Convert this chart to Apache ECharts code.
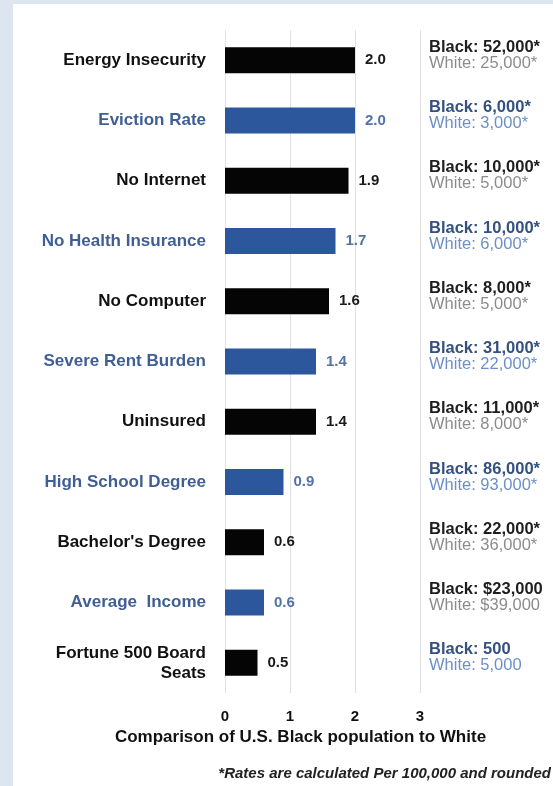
<!DOCTYPE html>
<html>
<head>
<meta charset="utf-8">
<title>Black vs White comparison</title>
<script src="https://cdn.jsdelivr.net/npm/echarts@6/dist/echarts.min.js"></script>
<style>
  html, body { margin: 0; padding: 0; background: #dde6f0; }
  .chart { width: 553px; height: 786px; }
</style>
</head>
<body>
<div class="chart"></div>
<script>
// 数据
var categories = ['Energy Insecurity', 'Eviction Rate', 'No Internet', 'No Health Insurance', 'No Computer',
  'Severe Rent Burden', 'Uninsured', 'High School Degree', "Bachelor's Degree", 'Average  Income',
  'Fortune 500 Board\nSeats'];
var ratios = [2.0, 2.0, 1.9, 1.7, 1.6, 1.4, 1.4, 0.9, 0.6, 0.6, 0.5];
var blackRates = ['52,000*', '6,000*', '10,000*', '10,000*', '8,000*', '31,000*', '11,000*', '86,000*', '22,000*', '$23,000', '500'];
var whiteRates = ['25,000*', '3,000*', '5,000*', '6,000*', '5,000*', '22,000*', '8,000*', '93,000*', '36,000*', '$39,000', '5,000'];
// k = 黑色, b = 蓝色
var barTone = ['k', 'b', 'k', 'b', 'k', 'b', 'k', 'b', 'k', 'b', 'k'];
var noteTone = ['k', 'b', 'k', 'b', 'k', 'b', 'k', 'b', 'k', 'k', 'b'];
var xTicks = [0, 1, 2, 3];

var colors = {
  k: { bar: '#050505', label: '#111111', value: '#1a1a1a', black: '#1e1e1e', white: '#8c8c8c' },
  b: { bar: '#2d579d', label: '#3f5f94', value: '#5472a6', black: '#34517f', white: '#6d8fc6' }
};
var font = 'Liberation Sans';

var $chart = document.querySelector('.chart');
var myChart = echarts.init($chart);

var catRich = {
  k: { color: colors.k.label, fontWeight: 'bold', fontSize: 17, fontFamily: font, lineHeight: 20, align: 'right' },
  b: { color: colors.b.label, fontWeight: 'bold', fontSize: 17, fontFamily: font, lineHeight: 20, align: 'right' }
};

var noteRich = {
  kb: { color: colors.k.black, fontWeight: 'bold', fontSize: 16.5, fontFamily: font, lineHeight: 16 },
  kw: { color: colors.k.white, fontSize: 16.5, fontFamily: font, lineHeight: 16 },
  bb: { color: colors.b.black, fontWeight: 'bold', fontSize: 16.5, fontFamily: font, lineHeight: 16 },
  bw: { color: colors.b.white, fontSize: 16.5, fontFamily: font, lineHeight: 16 }
};

var barData = ratios.map(function(v, i) {
  var t = colors[barTone[i]];
  return {
    value: v,
    itemStyle: { color: t.bar },
    label: { color: t.value }
  };
});

var option = {
  animation: false,
  backgroundColor: '#dde6f0',
  graphic: [{
    type: 'rect',
    shape: { x: 13, y: 4, width: 540, height: 782 },
    style: { fill: '#ffffff' },
    z: -10
  }, {
    type: 'text',
    right: 2,
    top: 766,
    style: {
      text: '*Rates are calculated Per 100,000 and rounded',
      fill: '#222',
      font: 'italic bold 15px "Liberation Sans"'
    }
  }],
  grid: { left: 225, width: 195, top: 30, height: 663 },
  xAxis: {
    type: 'value',
    min: xTicks[0],
    max: xTicks[xTicks.length - 1],
    interval: 1,
    axisLine: { show: false },
    axisTick: { show: false },
    splitLine: { show: true, lineStyle: { color: '#e2e2e2', width: 1 } },
    axisLabel: { color: '#111', fontWeight: 'bold', fontSize: 15, fontFamily: font, margin: 16 },
    name: 'Comparison of U.S. Black population to White',
    nameLocation: 'middle',
    nameGap: 35,
    nameTextStyle: { color: '#111', fontWeight: 'bold', fontSize: 17, fontFamily: font, padding: [0, 44, 0, 0] }
  },
  yAxis: [{
    type: 'category',
    inverse: true,
    data: categories,
    axisLine: { show: false },
    axisTick: { show: false },
    axisLabel: {
      margin: 19,
      formatter: function(val, i) {
        return val.split('\n').map(function(s) { return '{' + barTone[i] + '|' + s + '}'; }).join('\n');
      },
      rich: catRich
    }
  }, {
    type: 'category',
    inverse: true,
    position: 'right',
    data: categories,
    axisLine: { show: false },
    axisTick: { show: false },
    axisLabel: {
      margin: 9,
      align: 'left',
      padding: [0, 0, 10, 0],
      formatter: function(val, i) {
        var t = noteTone[i];
        return '{' + t + 'b|Black: ' + blackRates[i] + '}\n{' + t + 'w|White: ' + whiteRates[i] + '}';
      },
      rich: noteRich
    }
  }],
  series: [{
    type: 'bar',
    data: barData,
    barWidth: 26,
    label: {
      show: true,
      position: 'right',
      distance: 10,
      fontWeight: 'bold',
      fontSize: 15,
      fontFamily: font,
      formatter: function(p) { return p.value.toFixed(1); }
    }
  }]
};

myChart.setOption(option);
</script>
</body>
</html>
